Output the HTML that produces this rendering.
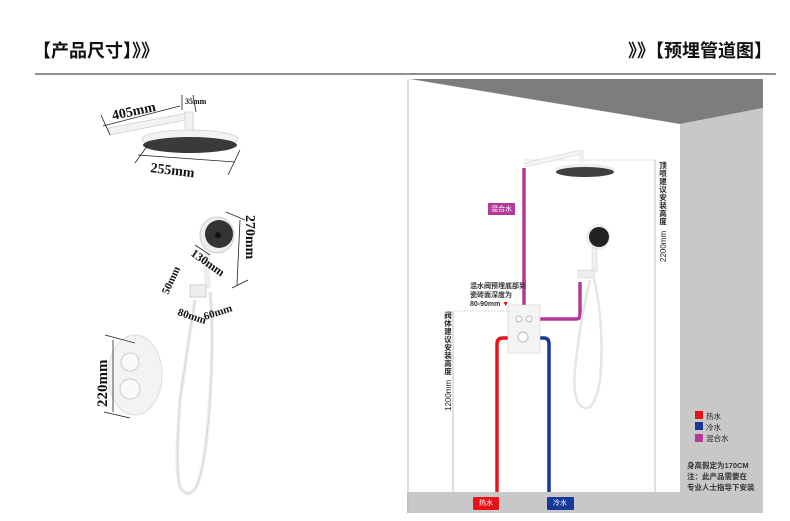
<!DOCTYPE html>
<html><head><meta charset="utf-8"><style>
html,body{margin:0;padding:0;background:#fff;width:790px;height:521px;overflow:hidden}
svg{display:block}
text{font-family:"Liberation Sans","Noto Sans CJK SC",sans-serif}
.s{font-family:"Liberation Serif","Noto Serif CJK SC",serif;font-weight:bold;fill:#111}
.v{font-size:7.5px;fill:#222;font-weight:bold;text-anchor:middle}
</style></head><body>
<svg width="790" height="521" viewBox="0 0 790 521">
<text x="33" y="57" font-size="18" font-weight="bold" fill="#111">【产品尺寸】》》</text>
<text x="772" y="57" font-size="18" font-weight="bold" fill="#111" text-anchor="end">》》【预埋管道图】</text>
<line x1="35" y1="74" x2="776" y2="74" stroke="#222" stroke-width="1"/>

<g fill="#f2f2f2" stroke="#d0d0d0" stroke-width="0.8">
<path d="M108 128 L188 113 L190 119 L110 135 Z"/>
<rect x="185" y="112" width="8" height="20"/>
<ellipse cx="190" cy="139" rx="48" ry="9"/>
</g>
<ellipse cx="190" cy="145" rx="47" ry="8" fill="#3a3a3a"/>
<g stroke="#222" stroke-width="0.8" fill="none">
<line x1="101" y1="115" x2="110" y2="135"/><line x1="103" y1="126" x2="180" y2="106"/>
<line x1="182" y1="95" x2="182" y2="110"/><line x1="193" y1="95" x2="196" y2="112"/>
<line x1="135" y1="163" x2="148" y2="145"/><line x1="228" y1="175" x2="240" y2="150"/>
<line x1="138" y1="155" x2="235" y2="162"/>
</g>
<text class="s" x="113" y="120" font-size="14" transform="rotate(-12 113 120)">405mm</text>
<text class="s" x="185" y="104" font-size="8">35mm</text>
<text class="s" x="150" y="172" font-size="14" transform="rotate(7 150 172)">255mm</text>

<ellipse cx="217" cy="235" rx="17" ry="18" fill="#eee" stroke="#ccc"/>
<circle cx="219" cy="234" r="14" fill="#333"/>
<circle cx="218" cy="235" r="3" fill="#111"/>
<path d="M208 252 Q205 270 208 288" stroke="#eee" stroke-width="6" fill="none"/>
<rect x="190" y="285" width="16" height="12" fill="#eee" stroke="#ccc"/>
<path d="M210 292 Q214 330 210 400 Q205 470 196 487 Q188 500 180 487 Q175 470 180 400 Q190 330 195 300" stroke="#eee" stroke-width="4" fill="none"/>
<path d="M210 292 Q214 330 210 400 Q205 470 196 487 Q188 500 180 487 Q175 470 180 400 Q190 330 195 300" stroke="#ccc" stroke-width="0.7" fill="none"/>
<g stroke="#222" stroke-width="0.8" fill="none">
<line x1="226" y1="212" x2="245" y2="220"/><line x1="232" y1="288" x2="248" y2="280"/>
<line x1="240" y1="220" x2="237" y2="285"/><line x1="195" y1="245" x2="210" y2="255"/>
</g>
<text class="s" x="246" y="215" font-size="14" transform="rotate(90 246 215)">270mm</text>
<text class="s" x="190" y="255" font-size="12" transform="rotate(35 190 255)">130mm</text>
<text class="s" x="168" y="295" font-size="11" transform="rotate(-65 168 295)">50mm</text>
<text class="s" x="177" y="315" font-size="11" transform="rotate(18 177 315)">80mm</text>
<text class="s" x="205" y="320" font-size="11" transform="rotate(-18 205 320)">60mm</text>

<ellipse cx="135" cy="375" rx="27" ry="40" fill="#f3f3f3" stroke="#ddd"/>
<circle cx="130" cy="362" r="9" fill="#fafafa" stroke="#ccc"/>
<circle cx="130" cy="389" r="10" fill="#fafafa" stroke="#ccc"/>
<g stroke="#222" stroke-width="0.8"><line x1="105" y1="335" x2="135" y2="343"/><line x1="104" y1="412" x2="130" y2="418"/><line x1="113" y1="340" x2="113" y2="412"/></g>
<text class="s" x="107" y="407" font-size="15" transform="rotate(-90 107 407)">220mm</text>

<rect x="407" y="79" width="356" height="434" fill="#fff"/>
<polygon points="410,79 763,79 763,108 680,124" fill="#7d7d7d"/>
<polygon points="680,124 763,108 763,492 680,492" fill="#c8c8c8"/>
<rect x="407" y="492" width="356" height="21" fill="#c8c8c8"/>
<line x1="408" y1="79" x2="408" y2="513" stroke="#bbb"/>

<g stroke="#999" stroke-width="0.6" stroke-dasharray="1.5,1.5" fill="none">
<line x1="524" y1="160" x2="655" y2="160"/><line x1="455" y1="311" x2="508" y2="311"/>
</g>
<g stroke="#999" stroke-width="0.6"><line x1="655" y1="160" x2="655" y2="492"/><line x1="453" y1="311" x2="453" y2="492"/></g>
<g class="v">
<text x="663" y="168" class="v">顶</text><text x="663" y="176" class="v">喷</text><text x="663" y="184" class="v">建</text><text x="663" y="192" class="v">议</text><text x="663" y="200" class="v">安</text><text x="663" y="208" class="v">装</text><text x="663" y="216" class="v">高</text><text x="663" y="224" class="v">度</text>
<text x="448" y="318" class="v">阀</text><text x="448" y="326" class="v">体</text><text x="448" y="334" class="v">建</text><text x="448" y="342" class="v">议</text><text x="448" y="350" class="v">安</text><text x="448" y="358" class="v">装</text><text x="448" y="366" class="v">高</text><text x="448" y="374" class="v">度</text>
</g>
<text x="666" y="262" font-size="8" fill="#222" transform="rotate(-90 666 262)">2200mm</text>
<text x="451" y="411" font-size="8" fill="#222" transform="rotate(-90 451 411)">1200mm</text>

<g fill="none" stroke-width="3.5">
<path d="M524 168 V305" stroke="#b4399a"/>
<path d="M540 319 H576 Q580 319 580 315 V282" stroke="#b4399a"/>
<path d="M497 492 V344 Q497 338 503 338 H508" stroke="#e8121b"/>
<path d="M540 338 H544 Q549 338 549 344 V492" stroke="#17389a"/>
</g>
<path d="M524 163 L580 150 L582 154 L526 167 Z" fill="#f3f3f3" stroke="#ccc" stroke-width="0.5"/>
<rect x="579" y="150" width="5" height="12" fill="#eee"/>
<ellipse cx="585" cy="170" rx="30" ry="6" fill="#eee"/>
<ellipse cx="585" cy="172" rx="29" ry="5" fill="#3f3f3f"/>
<rect x="508" y="305" width="32" height="48" fill="#f4f4f4" stroke="#ccc" stroke-width="0.6"/>
<circle cx="519" cy="319" r="3" fill="#fff" stroke="#bbb"/><circle cx="529" cy="319" r="3" fill="#fff" stroke="#bbb"/>
<circle cx="523" cy="337" r="5" fill="#fff" stroke="#bbb"/>
<ellipse cx="598" cy="237" rx="12" ry="13" fill="#eee"/>
<circle cx="599" cy="237" r="10" fill="#222"/>
<rect x="592" y="248" width="5" height="24" fill="#f0f0f0" stroke="#ccc" stroke-width="0.5"/>
<rect x="578" y="270" width="16" height="8" fill="#eee" stroke="#ccc" stroke-width="0.5"/>
<path d="M594 278 Q605 330 600 380 Q595 410 585 408 Q572 405 575 370 Q580 320 590 280" stroke="#e6e6e6" stroke-width="2.5" fill="none"/>

<text x="470" y="288" font-size="7" font-weight="bold" fill="#333">混水阀预埋底部到</text>
<text x="470" y="297" font-size="7" font-weight="bold" fill="#333">瓷砖面深度为</text>
<text x="470" y="306" font-size="7" font-weight="bold" fill="#333">80-90mm <tspan fill="#e00">▼</tspan></text>

<rect x="488" y="203" width="27" height="12" fill="#b4399a"/>
<text x="501.5" y="211" font-size="7" fill="#fff" text-anchor="middle">混合水</text>
<rect x="473" y="497" width="26" height="13" fill="#e8121b" rx="1"/>
<text x="486" y="505" font-size="7" fill="#fff" text-anchor="middle">热水</text>
<rect x="547" y="497" width="27" height="13" fill="#17389a" rx="1"/>
<text x="560" y="505" font-size="7" fill="#fff" text-anchor="middle">冷水</text>

<rect x="695" y="411" width="8" height="8" fill="#e8121b"/><text x="706" y="419" font-size="7.5" fill="#222">热水</text>
<rect x="695" y="422" width="8" height="8" fill="#17389a"/><text x="706" y="430" font-size="7.5" fill="#222">冷水</text>
<rect x="695" y="434" width="8" height="8" fill="#b4399a"/><text x="706" y="441" font-size="7.5" fill="#222">混合水</text>
<text x="687" y="468" font-size="7.5" font-weight="bold" fill="#333">身高假定为170CM</text>
<text x="687" y="479" font-size="7.5" font-weight="bold" fill="#333">注：此产品需要在</text>
<text x="687" y="490" font-size="7.5" font-weight="bold" fill="#333">专业人士指导下安装</text>
</svg>
</body></html>
